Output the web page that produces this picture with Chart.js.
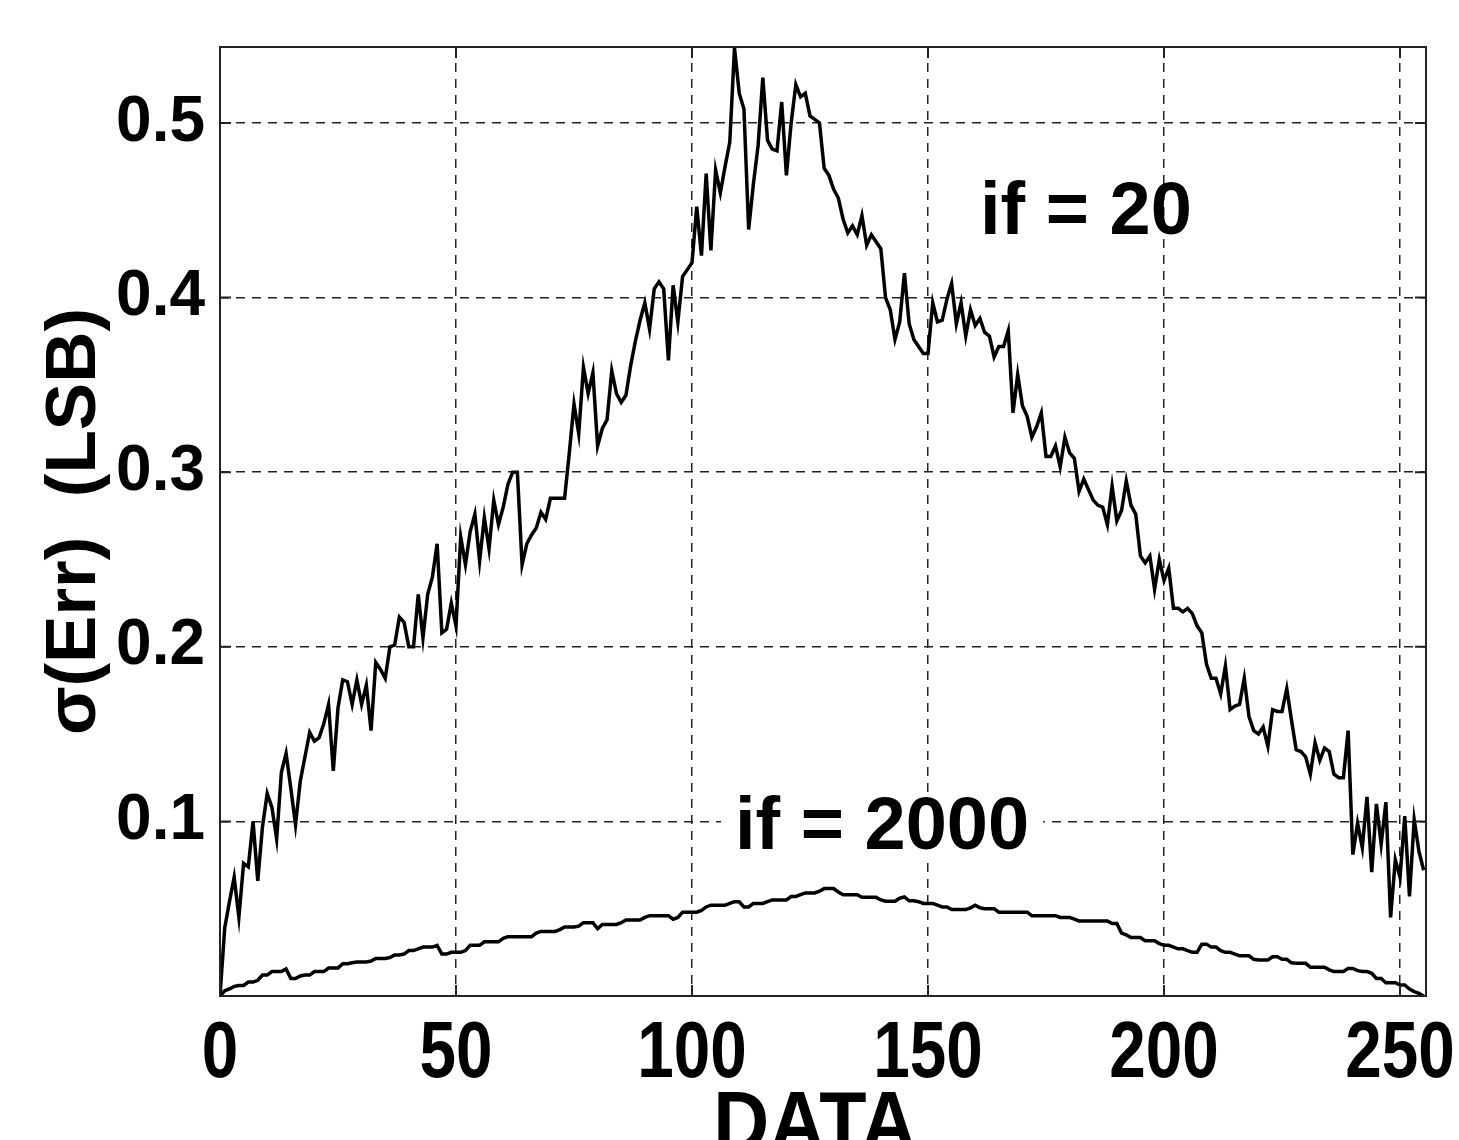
<!DOCTYPE html>
<html>
<head>
<meta charset="utf-8">
<script src="https://cdn.jsdelivr.net/npm/chart.js@4/dist/chart.umd.min.js"></script>
<style>
  html, body { margin: 0; padding: 0; background: #fff; }
  #wrap { width: 1459px; height: 1140px; }
</style>
</head>
<body>
<div id="wrap"><canvas id="chart" width="1459" height="1140"></canvas></div>
<script>
// DATA code axis, 0..255
const codes = Array.from({ length: 256 }, (_, i) => i);

// sigma(Err) in LSB, if = 20
const sigmaIf20 = [
  0, 0.039, 0.054, 0.068, 0.045, 0.076, 0.074, 0.1, 0.066, 0.097, 0.116, 0.108, 0.09, 0.128, 0.139, 0.119,
  0.098, 0.123, 0.137, 0.151, 0.146, 0.148, 0.156, 0.167, 0.129, 0.165, 0.181, 0.18, 0.167, 0.181, 0.167, 0.178,
  0.152, 0.191, 0.187, 0.182, 0.2, 0.201, 0.217, 0.214, 0.2, 0.2, 0.23, 0.205, 0.23, 0.24, 0.259, 0.208,
  0.21, 0.225, 0.212, 0.263, 0.247, 0.266, 0.276, 0.249, 0.274, 0.256, 0.284, 0.27, 0.28, 0.293, 0.3, 0.3,
  0.247, 0.259, 0.264, 0.268, 0.277, 0.273, 0.285, 0.285, 0.285, 0.285, 0.311, 0.339, 0.322, 0.36, 0.345, 0.357,
  0.315, 0.325, 0.33, 0.358, 0.345, 0.34, 0.344, 0.361, 0.375, 0.387, 0.397, 0.382, 0.405, 0.409, 0.405, 0.364,
  0.407, 0.386, 0.412, 0.416, 0.42, 0.452, 0.424, 0.471, 0.427, 0.473, 0.46, 0.475, 0.489, 0.543, 0.517, 0.508,
  0.439, 0.465, 0.487, 0.526, 0.49, 0.485, 0.484, 0.512, 0.47, 0.5, 0.522, 0.515, 0.517, 0.504, 0.502, 0.5,
  0.474, 0.47, 0.462, 0.457, 0.445, 0.437, 0.441, 0.436, 0.447, 0.43, 0.436, 0.432, 0.428, 0.4, 0.393, 0.376,
  0.386, 0.414, 0.385, 0.376, 0.372, 0.368, 0.368, 0.397, 0.386, 0.387, 0.399, 0.408, 0.385, 0.397, 0.378, 0.393,
  0.384, 0.388, 0.38, 0.378, 0.366, 0.372, 0.372, 0.381, 0.334, 0.356, 0.338, 0.332, 0.32, 0.326, 0.334, 0.309,
  0.309, 0.315, 0.303, 0.32, 0.311, 0.308, 0.289, 0.296, 0.29, 0.284, 0.281, 0.28, 0.27, 0.292, 0.272, 0.278,
  0.295, 0.281, 0.276, 0.252, 0.248, 0.252, 0.233, 0.25, 0.238, 0.245, 0.222, 0.222, 0.22, 0.222, 0.219, 0.212,
  0.208, 0.19, 0.182, 0.182, 0.173, 0.189, 0.164, 0.166, 0.167, 0.182, 0.16, 0.152, 0.15, 0.154, 0.143, 0.164,
  0.163, 0.163, 0.176, 0.158, 0.141, 0.14, 0.137, 0.127, 0.145, 0.135, 0.142, 0.14, 0.127, 0.125, 0.125, 0.152,
  0.081, 0.099, 0.085, 0.114, 0.071, 0.11, 0.087, 0.111, 0.045, 0.078, 0.068, 0.103, 0.057, 0.101, 0.083, 0.072
];

// sigma(Err) in LSB, if = 2000
const sigmaIf2000 = [
  0, 0.003, 0.004, 0.0055, 0.006, 0.006, 0.008, 0.008, 0.009, 0.012, 0.012, 0.014, 0.014, 0.014, 0.0155, 0.01,
  0.01, 0.0115, 0.012, 0.012, 0.014, 0.014, 0.014, 0.016, 0.016, 0.016, 0.0185, 0.0185, 0.019, 0.0195, 0.0195, 0.0195,
  0.02, 0.0215, 0.0215, 0.0215, 0.022, 0.0235, 0.0235, 0.024, 0.026, 0.026, 0.027, 0.028, 0.028, 0.028, 0.029, 0.024,
  0.024, 0.025, 0.025, 0.025, 0.026, 0.029, 0.029, 0.029, 0.031, 0.031, 0.031, 0.031, 0.033, 0.034, 0.034, 0.034,
  0.034, 0.034, 0.034, 0.036, 0.037, 0.037, 0.037, 0.037, 0.038, 0.0395, 0.0395, 0.0395, 0.04, 0.042, 0.042, 0.042,
  0.0385, 0.041, 0.041, 0.041, 0.041, 0.042, 0.0435, 0.0435, 0.0435, 0.0435, 0.045, 0.046, 0.046, 0.046, 0.046, 0.046,
  0.044, 0.045, 0.048, 0.048, 0.048, 0.048, 0.049, 0.051, 0.052, 0.052, 0.052, 0.052, 0.053, 0.054, 0.054, 0.051,
  0.051, 0.053, 0.053, 0.053, 0.054, 0.055, 0.055, 0.055, 0.055, 0.057, 0.057, 0.058, 0.059, 0.059, 0.059, 0.06,
  0.0615, 0.0615, 0.0615, 0.0596, 0.058, 0.058, 0.058, 0.058, 0.0565, 0.0565, 0.0565, 0.0565, 0.055, 0.0543, 0.0543, 0.0543,
  0.056, 0.0568, 0.0545, 0.0545, 0.054, 0.053, 0.053, 0.053, 0.052, 0.051, 0.051, 0.0495, 0.0495, 0.0495, 0.0495, 0.0505,
  0.052, 0.0505, 0.05, 0.05, 0.05, 0.048, 0.048, 0.048, 0.048, 0.048, 0.048, 0.048, 0.046, 0.046, 0.046, 0.046,
  0.046, 0.046, 0.045, 0.045, 0.045, 0.044, 0.043, 0.043, 0.043, 0.043, 0.043, 0.043, 0.043, 0.0415, 0.0415, 0.036,
  0.035, 0.0335, 0.0335, 0.0335, 0.0316, 0.0316, 0.0316, 0.03, 0.029, 0.029, 0.028, 0.027, 0.027, 0.026, 0.025, 0.025,
  0.0297, 0.0297, 0.028, 0.028, 0.026, 0.025, 0.025, 0.024, 0.023, 0.023, 0.023, 0.021, 0.0206, 0.0206, 0.0206, 0.0225,
  0.0225, 0.021, 0.021, 0.019, 0.0187, 0.0187, 0.0187, 0.0165, 0.0165, 0.0165, 0.0165, 0.015, 0.014, 0.014, 0.014, 0.0158,
  0.0158, 0.0145, 0.014, 0.014, 0.013, 0.01, 0.01, 0.0076, 0.0076, 0.0076, 0.0063, 0.0063, 0.004, 0.0025, 0.0015, 0
];

const seriesNames = ['if = 20', 'if = 2000'];
const xTickValues = [0, 50, 100, 150, 200, 250];
const yTickValues = [0.1, 0.2, 0.3, 0.4, 0.5];

// text labels placed in data coordinates
const notes = [
  { text: 'if = 20', x: 161, y: 0.448, boxed: false },
  { text: 'if = 2000', x: 109.1, y: 0.096, boxed: true }
];

const BOLD = "'Liberation Sans', Arial, sans-serif";
const SQUEEZE = 0.82; // x labels in the original use a narrow face

// plot frame, inward ticks, narrow x labels and the in-plot labels
const framePlugin = {
  id: 'frame',
  afterDraw(chart) {
    const { ctx, chartArea: a, scales } = chart;
    ctx.save();
    ctx.strokeStyle = '#222';
    ctx.lineWidth = 2;
    ctx.setLineDash([]);
    scales.x.ticks.forEach(t => {
      const px = scales.x.getPixelForValue(t.value);
      ctx.beginPath();
      ctx.moveTo(px, a.bottom); ctx.lineTo(px, a.bottom - 11);
      ctx.moveTo(px, a.top); ctx.lineTo(px, a.top + 11);
      ctx.stroke();
    });
    scales.y.ticks.forEach(t => {
      const py = scales.y.getPixelForValue(t.value);
      ctx.beginPath();
      ctx.moveTo(a.left, py); ctx.lineTo(a.left + 11, py);
      ctx.moveTo(a.right, py); ctx.lineTo(a.right - 11, py);
      ctx.stroke();
    });
    ctx.strokeRect(a.left, a.top, a.right - a.left, a.bottom - a.top);

    // x tick labels and axis title, horizontally squeezed
    ctx.fillStyle = '#000';
    ctx.textAlign = 'center';
    ctx.textBaseline = 'alphabetic';
    ctx.font = 'bold 80px ' + BOLD;
    scales.x.ticks.forEach(t => {
      const px = scales.x.getPixelForValue(t.value);
      ctx.save();
      ctx.translate(px, a.bottom + 81);
      ctx.scale(SQUEEZE, 1);
      ctx.fillText(String(t.value), 0, 0);
      ctx.restore();
    });
    ctx.font = 'bold 86px ' + BOLD;
    ctx.save();
    ctx.translate(815, a.bottom + 155);
    ctx.scale(0.9, 1);
    ctx.fillText('DATA', 0, 0);
    ctx.restore();

    ctx.font = 'bold 74px ' + BOLD;
    ctx.textAlign = 'left';
    ctx.textBaseline = 'middle';
    notes.forEach(n => {
      const px = scales.x.getPixelForValue(n.x);
      const py = scales.y.getPixelForValue(n.y);
      if (n.boxed) {
        const w = ctx.measureText(n.text).width;
        ctx.fillStyle = '#fff';
        ctx.fillRect(px - 14, py - 36, w + 28, 70);
      }
      ctx.fillStyle = '#000';
      ctx.fillText(n.text, px, py);
    });
    ctx.restore();
  }
};

new Chart(document.getElementById('chart'), {
  type: 'line',
  data: {
    labels: codes,
    datasets: [
      {
        label: seriesNames[0],
        data: sigmaIf20,
        borderColor: '#000',
        borderWidth: 3.5,
        pointRadius: 0,
        tension: 0,
        fill: false
      },
      {
        label: seriesNames[1],
        data: sigmaIf2000,
        borderColor: '#000',
        borderWidth: 3.5,
        pointRadius: 0,
        tension: 0,
        fill: false
      }
    ]
  },
  options: {
    responsive: false,
    animation: false,
    events: [],
    layout: { padding: { top: 45, right: 33, left: 0, bottom: 0 } },
    plugins: {
      legend: { display: false },
      tooltip: { enabled: false }
    },
    scales: {
      x: {
        type: 'linear',
        min: 0,
        max: 255.5,
        afterBuildTicks(scale) { scale.ticks = xTickValues.map(v => ({ value: v })); },
        afterFit(scale) { scale.height = 144; },
        ticks: { display: false },
        grid: { color: '#222', lineWidth: 1.5, drawTicks: false },
        border: { display: false, dash: [9, 7] }
      },
      y: {
        min: 0,
        max: 0.5435,
        afterBuildTicks(scale) { scale.ticks = yTickValues.map(v => ({ value: v })); },
        afterFit(scale) { scale.width = 220; },
        ticks: {
          padding: 15,
          color: '#000',
          font: { family: BOLD, weight: 'bold', size: 64, lineHeight: 1 },
          callback: v => v.toFixed(1)
        },
        grid: { color: '#222', lineWidth: 1.5, drawTicks: false },
        border: { display: false, dash: [9, 7] },
        title: {
          display: true,
          text: 'σ(Err)  (LSB)',
          color: '#000',
          padding: { top: 40, bottom: 0 },
          font: { family: BOLD, weight: 'bold', size: 71, lineHeight: 1 }
        }
      }
    }
  },
  plugins: [framePlugin]
});
</script>
</body>
</html>
